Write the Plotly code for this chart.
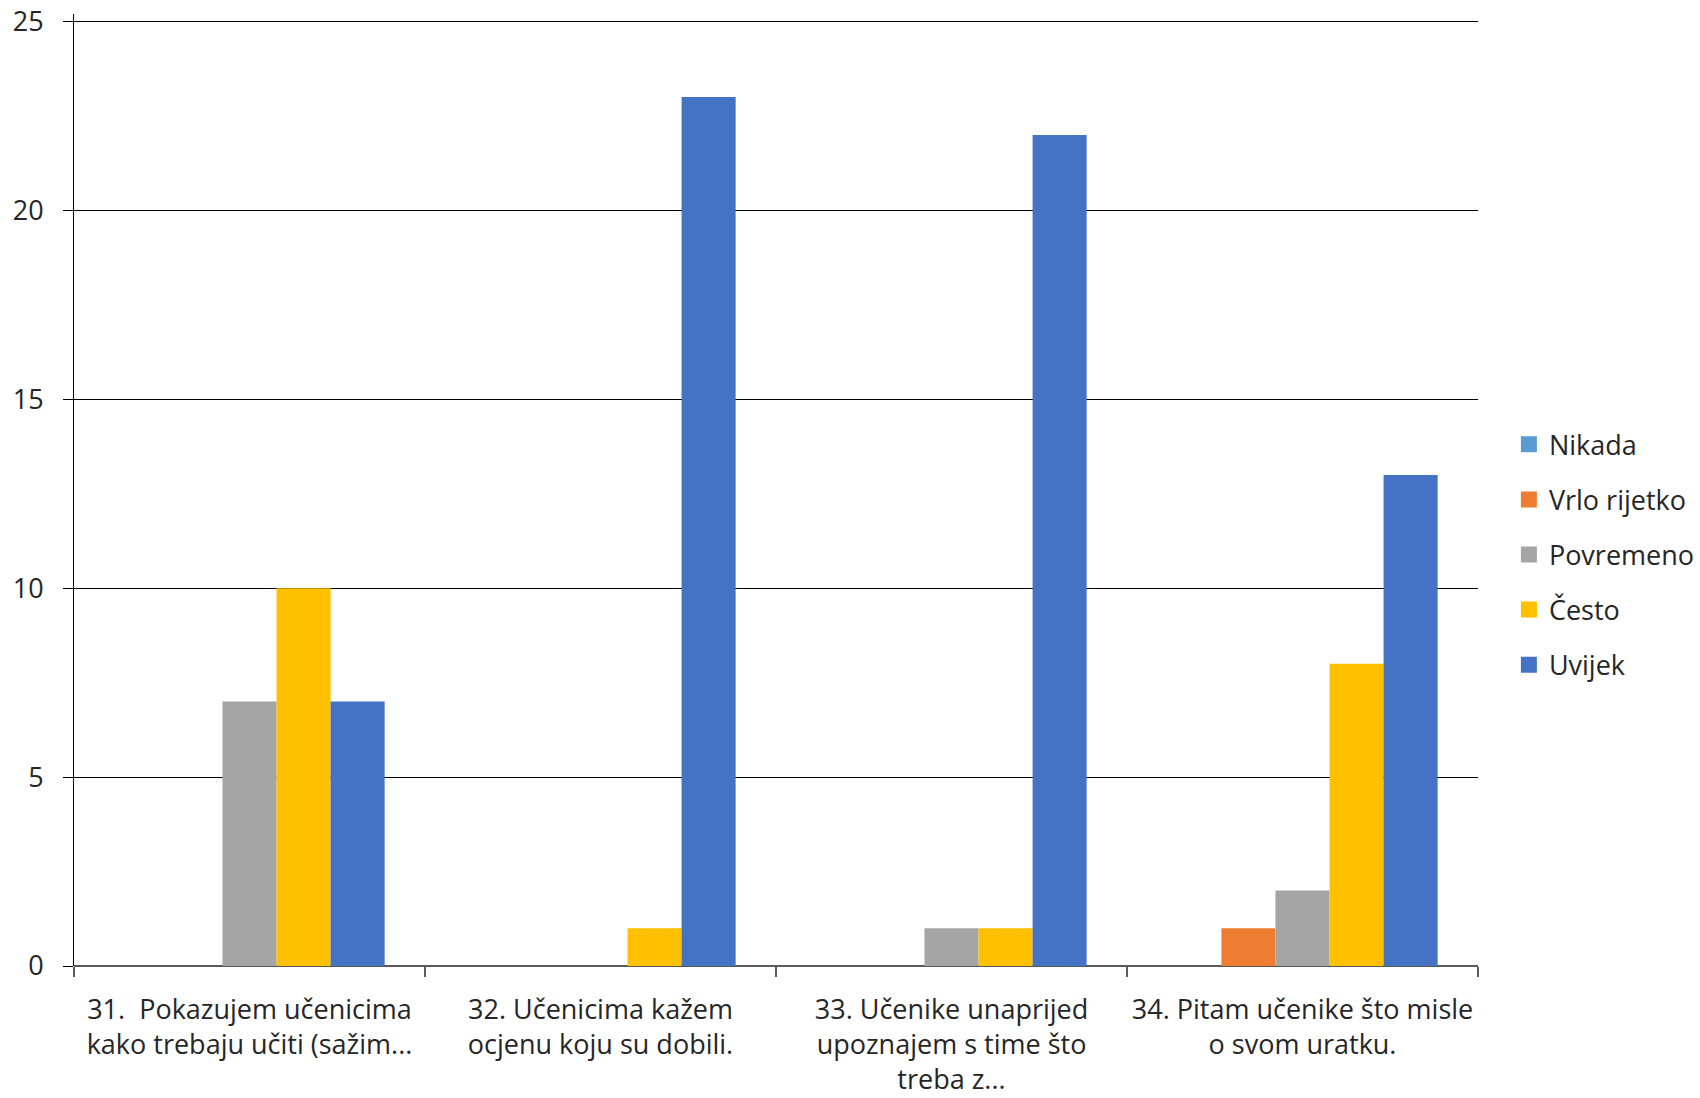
import plotly.graph_objects as go

categories = [
    "31.\u00a0 Pokazujem učenicima<br>kako trebaju učiti (sažim...",
    "32. Učenicima kažem<br>ocjenu koju su dobili.",
    "33. Učenike unaprijed<br>upoznajem s time što<br>treba z...",
    "34. Pitam učenike što misle<br>o svom uratku.",
]
series_names = ["Nikada", "Vrlo rijetko", "Povremeno", "Često", "Uvijek"]
nikada = [0, 0, 0, 0]
vrlo_rijetko = [0, 0, 0, 1]
povremeno = [7, 0, 1, 2]
cesto = [10, 1, 1, 8]
uvijek = [7, 23, 22, 13]
colors = ["#5B9BD5", "#ED7D31", "#A5A5A5", "#FFC000", "#4472C4"]
y_ticks = [0, 5, 10, 15, 20, 25]

FONT = "Open Sans"
TXT = "#262626"
fig = go.Figure()
for i, (name, vals) in enumerate(zip(series_names, [nikada, vrlo_rijetko, povremeno, cesto, uvijek])):
    fig.add_trace(go.Bar(x=categories, y=vals, name=name, marker_color=colors[i],
                         marker_line_width=0, legendgroup=name, showlegend=False))
for i, name in enumerate(series_names):
    fig.add_trace(go.Scatter(x=[None], y=[None], mode="markers", name=name,
                             marker=dict(symbol="square", size=19, color=colors[i]),
                             legendgroup=name, showlegend=True))

fig.update_layout(
    width=1700, height=1098,
    barmode="group", bargap=0.23, bargroupgap=0,
    plot_bgcolor="white", paper_bgcolor="white",
    margin=dict(l=74, r=222, t=14, b=132, autoexpand=False),
    font=dict(family=FONT, size=27, color=TXT),
    legend=dict(x=1.022, xanchor="left", y=0.432, yanchor="middle",
                traceorder="grouped", tracegroupgap=17,
                font=dict(family=FONT, size=27, color=TXT),
                itemwidth=30),
    showlegend=True,
)
fig.update_xaxes(
    showline=False, ticks="outside", tickson="boundaries", ticklen=10,
    tickcolor="#595959", tickwidth=1.5, showgrid=False,
    ticklabelstandoff=25,
    tickfont=dict(family=FONT, size=27, color=TXT),
)
fig.update_yaxes(
    range=[0, 25.2], tickvals=y_ticks, showgrid=True, gridcolor="#000000", gridwidth=1,
    showline=True, linecolor="#000000", linewidth=1,
    ticks="outside", ticklen=10, tickcolor="#000000",
    ticklabelstandoff=14, ticklabeloverflow="allow",
    zeroline=True, zerolinecolor="#595959", zerolinewidth=2,
    tickfont=dict(family=FONT, size=27, color=TXT),
)
fig.write_html("out.html", config={"displayModeBar": False},
               post_script="document.body.style.margin='0';")
